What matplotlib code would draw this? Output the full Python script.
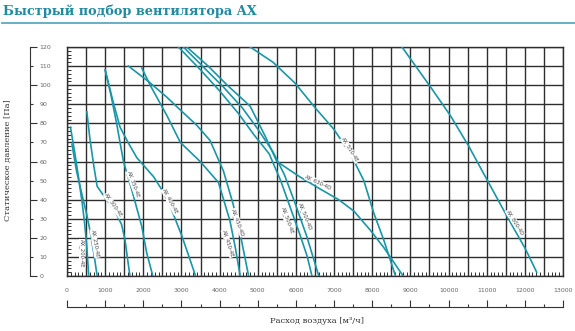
import matplotlib
matplotlib.use("Agg")
import matplotlib.pyplot as plt
import numpy as np

TEAL = "#1996a8"
TITLE_C = "#1f8aa0"

curves = {
    "AX_200-4E": [(90, 78), (200, 65), (300, 52), (400, 38), (460, 28), (520, 15), (570, 0)],
    "AX_250-4E": [(130, 69), (250, 55), (400, 42), (520, 32), (620, 22), (710, 11), (790, 0)],
    "AX_300-4E": [(520, 86), (600, 72), (700, 58), (790, 47), (1000, 41), (1260, 34), (1430, 27), (1520, 19), (1580, 10), (1650, 0)],
    "AX_350-4E": [(1000, 108), (1150, 95), (1300, 80), (1480, 60), (1700, 45), (1960, 26), (2090, 12), (2250, 0)],
    "AX_400-4E": [(1000, 108), (1200, 92), (1390, 78), (1600, 70), (1830, 62), (2270, 52), (2620, 41), (3010, 21), (3200, 10), (3370, 0)],
    "AX_450-4E": [(1960, 109), (2180, 100), (2620, 84), (2970, 70), (3490, 60), (3970, 49), (4270, 29), (4420, 14), (4540, 0)],
    "AX_450-4D": [(1610, 110), (2130, 102), (2600, 94), (2970, 87), (3400, 79), (3750, 71), (4100, 55), (4350, 38), (4560, 20), (4760, 0)],
    "AX_500-4E": [(2920, 120), (3500, 108), (4000, 97), (4500, 85), (4900, 74), (5300, 64), (5600, 50), (5850, 36), (6100, 22), (6300, 10), (6420, 0)],
    "AX_500-4D": [(3050, 120), (3600, 109), (4100, 99), (4600, 88), (5000, 77), (5400, 65), (5700, 53), (5980, 38), (6280, 21), (6600, 0)],
    "AX_630-4D": [(3140, 120), (3700, 110), (4200, 100), (4800, 89), (5200, 73), (5500, 60), (6100, 52), (6600, 46), (7120, 40), (7520, 34), (7950, 24), (8300, 15), (8810, 0)],
    "AX_550-4E": [(4800, 120), (5400, 112), (5980, 101), (6510, 88), (6990, 77), (7430, 64), (7780, 50), (8040, 33), (8300, 19), (8610, 0)],
    "AX_800-4D": [(8780, 120), (9530, 99), (10050, 84), (10530, 68), (11020, 50), (11540, 31), (12020, 14), (12310, 2)],
}

label_pos = {
    "AX_200-4E": (385, 12, -90),
    "AX_250-4E": (734, 17, -80),
    "AX_300-4E": (1214, 37, -55),
    "AX_350-4E": (1738, 48, -70),
    "AX_400-4E": (2700, 39, -62),
    "AX_450-4E": (4220, 17, -72),
    "AX_450-4D": (4482, 28, -70),
    "AX_500-4E": (5767, 29, -70),
    "AX_500-4D": (6238, 31, -68),
    "AX_630-4D": (6588, 49, -25),
    "AX_550-4E": (7418, 66, -58),
    "AX_800-4D": (11743, 28, -58),
}

x_ticks = list(range(0, 13001, 1000))
y_ticks = list(range(0, 121, 10))

fig = plt.figure(figsize=(5.75, 3.31), dpi=100)
W, H = 575, 331

def ax_rect(x0, y0, x1, y1):
    return [x0 / W, 1 - y1 / H, (x1 - x0) / W, (y1 - y0) / H]

GRID_C = "#2e2e2e"
ax = fig.add_axes(ax_rect(67, 47, 563, 276))
ax.set_xlim(0, 13000)
ax.set_ylim(0, 120)
for v in np.arange(0, 13001, 500):
    ax.axvline(v, color=GRID_C, lw=1.0, zorder=1)
for v in y_ticks:
    ax.axhline(v, color=GRID_C, lw=1.0, zorder=1)
ax.set_xticks([])
ax.set_yticks([])
ax.set_xticks(np.arange(0, 13001, 100), minor=True)
ax.set_yticks(np.arange(0, 121, 2), minor=True)
ax.tick_params(which="minor", direction="in", length=3, width=0.7, color=GRID_C,
               labelbottom=False, labelleft=False)
for s in ax.spines.values():
    s.set_color(GRID_C)
    s.set_linewidth(1.0)

for name, pts in curves.items():
    q = [p[0] for p in pts]
    p_ = [p[1] for p in pts]
    ax.plot(q, p_, color=TEAL, lw=1.2, zorder=3, clip_on=True)

for name, (x, y, r) in label_pos.items():
    ax.text(x, y, name, fontsize=3.8, color="#444444", rotation=r, ha="center", va="center",
            zorder=4, bbox=dict(facecolor="white", edgecolor="none", pad=0.2))

# separate y axis
axy = fig.add_axes(ax_rect(30, 47, 31, 276))
axy.set_ylim(0, 120)
axy.set_xlim(0, 1)
for k in ["top", "right", "bottom"]:
    axy.spines[k].set_visible(False)
axy.spines["left"].set_color("#333333")
axy.set_xticks([])
axy.set_yticks(y_ticks[::2])
axy.set_yticks(y_ticks[1::2], minor=True)
axy.tick_params(axis="y", which="major", direction="in", length=5, width=0.8, color="#333333",
                labelsize=4.5, labelcolor="#666666", pad=6, left=True, labelleft=False, labelright=True,
                right=False)
axy.tick_params(axis="y", which="minor", direction="in", length=2.5, width=0.8, color="#333333",
                labelsize=4.5, labelcolor="#666666", pad=6, labelleft=False, labelright=True, right=False)
axy.set_yticklabels([str(v) for v in y_ticks[::2]])
axy.set_yticklabels([str(v) for v in y_ticks[1::2]], minor=True)
axy.patch.set_visible(False)

fig.text(8 / W, 1 - 160 / H, "Статическое давление [Па]", rotation=90, ha="center", va="center",
         fontsize=6, color="#333333", family="DejaVu Serif")

# separate x axis
axx = fig.add_axes(ax_rect(67, 306, 563, 307))
axx.set_xlim(0, 13000)
axx.set_ylim(0, 1)
for k in ["top", "right", "left"]:
    axx.spines[k].set_visible(False)
axx.spines["bottom"].set_color("#333333")
axx.set_yticks([])
axx.set_xticks(x_ticks)
axx.set_xticks(np.arange(500, 13000, 1000), minor=True)
axx.tick_params(axis="x", which="major", direction="in", length=5, width=0.8, color="#333333",
                labelsize=4.5, labelcolor="#666666", labelbottom=False, labeltop=True, top=False, pad=9)
axx.tick_params(axis="x", which="minor", direction="in", length=2.5, width=0.8, color="#333333",
                top=False)
axx.set_xticklabels([str(v) for v in x_ticks])
axx.patch.set_visible(False)

fig.text(317 / W, 1 - 321 / H, "Расход воздуха [м³/ч]", ha="center", va="center",
         fontsize=6, color="#333333", family="DejaVu Serif")

# title
fig.text(3 / W, 1 - 11 / H, "Быстрый подбор вентилятора AX", ha="left", va="center",
         fontsize=9.3, fontweight="bold", color=TITLE_C, family="DejaVu Serif")
fig.add_artist(plt.Line2D([2 / W, 1], [1 - 23 / H, 1 - 23 / H], color="#5aaabb", lw=1.3))

fig.savefig("out.png", dpi=100)
